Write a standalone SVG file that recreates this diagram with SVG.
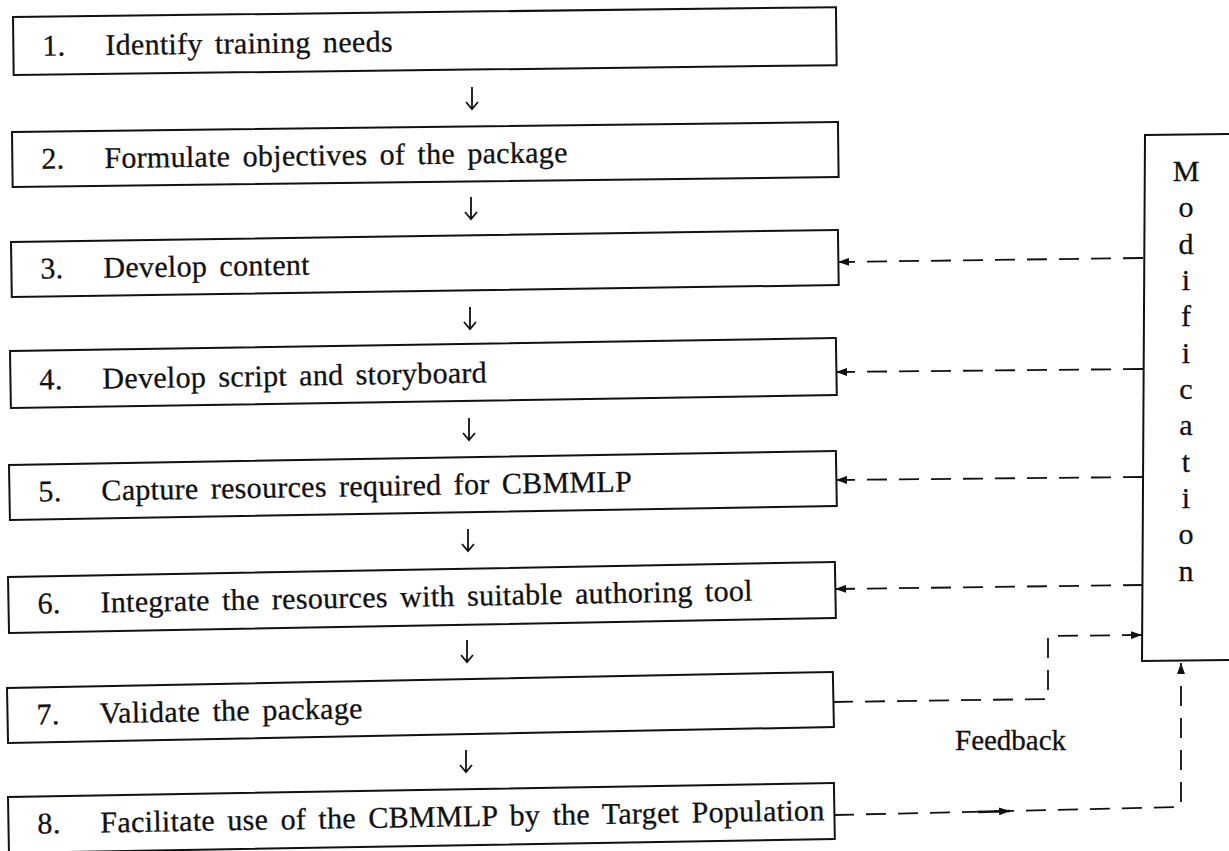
<svg xmlns="http://www.w3.org/2000/svg" width="1229" height="851" viewBox="0 0 1229 851">
<style>
.box{fill:none;stroke:#111;stroke-width:2}
.t{font-family:"Liberation Serif","Times New Roman",serif;font-size:30px;fill:#111;stroke:#111;stroke-width:0.3;letter-spacing:0.3px;word-spacing:4.5px}
.v{font-family:"Liberation Serif","Times New Roman",serif;font-size:30px;fill:#111;stroke:#111;stroke-width:0.3;text-anchor:middle}
.dash{fill:none;stroke:#111;stroke-width:1.8;stroke-dasharray:20 12}
.down{fill:none;stroke:#111;stroke-width:1.8}
</style>
<defs>
<marker id="ah" markerUnits="userSpaceOnUse" markerWidth="12" markerHeight="8" refX="11" refY="4" orient="auto">
<path d="M0,0 L11,4 L0,8 z" fill="#111"/>
</marker>
</defs>
<rect width="1229" height="851" fill="#fff"/>
<g id="node1" transform="rotate(-0.68 13 17)">
<rect class="box" x="13" y="17" width="823" height="58"/>
<text class="t" x="42" y="56">1.</text><text class="t" x="105" y="56">Identify training needs</text>
</g>
<g id="node2" transform="rotate(-0.69 12 132)">
<rect class="box" x="12" y="132" width="826" height="55"/>
<text class="t" x="41" y="169">2.</text><text class="t" x="104" y="169">Formulate objectives of the package</text>
</g>
<g id="node3" transform="rotate(-0.83 11 242)">
<rect class="box" x="11" y="242" width="827" height="55"/>
<text class="t" x="40" y="279">3.</text><text class="t" x="103" y="279">Develop content</text>
</g>
<g id="node4" transform="rotate(-0.9 10 351)">
<rect class="box" x="10" y="351" width="826" height="57"/>
<text class="t" x="39" y="390">4.</text><text class="t" x="102" y="390">Develop script and storyboard</text>
</g>
<g id="node5" transform="rotate(-0.97 9 465)">
<rect class="box" x="9" y="465" width="827" height="55"/>
<text class="t" x="38" y="502">5.</text><text class="t" x="101" y="502">Capture resources required for CBMMLP</text>
</g>
<g id="node6" transform="rotate(-1.04 8 577)">
<rect class="box" x="8" y="577" width="827" height="56"/>
<text class="t" x="37" y="614">6.</text><text class="t" x="100" y="614">Integrate the resources with suitable authoring tool</text>
</g>
<g id="node7" transform="rotate(-1.11 7 688)">
<rect class="box" x="7" y="688" width="826" height="55"/>
<text class="t" x="36" y="725">7.</text><text class="t" x="99" y="725">Validate the package</text>
</g>
<g id="node8" transform="rotate(-0.97 8 797)">
<rect class="box" x="8" y="797" width="826" height="56"/>
<text class="t" x="37" y="834">8.</text><text class="t" x="100" y="834">Facilitate use of the CBMMLP by the Target Population</text>
</g>
<g id="modification">
<path class="box" d="M1240,134 L1145,135 L1142,661 L1240,660"/>
<text class="v" x="1186" y="181">M</text>
<text class="v" x="1186" y="217">o</text>
<text class="v" x="1186" y="254">d</text>
<text class="v" x="1186" y="290">i</text>
<text class="v" x="1186" y="326">f</text>
<text class="v" x="1186" y="363">i</text>
<text class="v" x="1186" y="399">c</text>
<text class="v" x="1186" y="435">a</text>
<text class="v" x="1186" y="472">t</text>
<text class="v" x="1186" y="508">i</text>
<text class="v" x="1186" y="544">o</text>
<text class="v" x="1186" y="581">n</text>
</g>
<g id="feedback-label">
<text class="t" x="955" y="750" style="font-size:29px;letter-spacing:0">Feedback</text>
</g>
<g id="connectors">
<path class="down" d="M472,87 V109 M466,102 L472,109 L478,102"/>
<path class="down" d="M471,197 V219 M465,212 L471,219 L477,212"/>
<path class="down" d="M470,307 V329 M464,322 L470,329 L476,322"/>
<path class="down" d="M469,418 V440 M463,433 L469,440 L475,433"/>
<path class="down" d="M468,529 V551 M462,544 L468,551 L474,544"/>
<path class="down" d="M467,640 V662 M461,655 L467,662 L473,655"/>
<path class="down" d="M466,750 V772 M460,765 L466,772 L472,765"/>
<path class="dash" d="M1143,258 L838,262" marker-end="url(#ah)"/>
<path class="dash" d="M1143,369 L836,372" marker-end="url(#ah)"/>
<path class="dash" d="M1143,477 L836,480" marker-end="url(#ah)"/>
<path class="dash" d="M1143,585 L835,589" marker-end="url(#ah)"/>
<path class="dash" d="M833,702 L1048,699 L1048,636 L1142,635" marker-end="url(#ah)"/>
<path class="dash" d="M834,815 L1181,807 L1181,663" marker-end="url(#ah)"/>
<path d="M978,812 L1010,811" stroke="#111" stroke-width="2.6" fill="none" marker-end="url(#ah)"/>
</g>
</svg>
